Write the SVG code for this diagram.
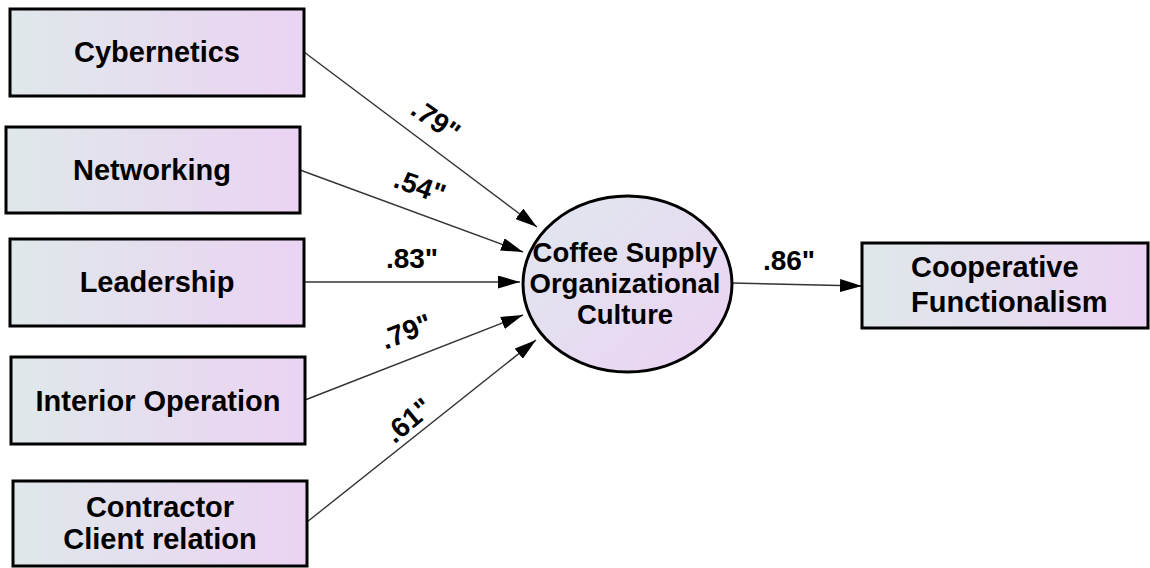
<svg xmlns="http://www.w3.org/2000/svg" width="1150" height="568" viewBox="0 0 1150 568">
  <defs>
    <linearGradient id="boxGrad" x1="0" y1="0" x2="1" y2="0">
      <stop offset="0" stop-color="#dfe8ea"/>
      <stop offset="1" stop-color="#ebd3f3"/>
    </linearGradient>
    <linearGradient id="ellGrad" x1="0" y1="0" x2="1" y2="1">
      <stop offset="0" stop-color="#dfe8ee"/>
      <stop offset="1" stop-color="#ecd2f3"/>
    </linearGradient>
    <marker id="arrow" viewBox="0 0 22 13" refX="22" refY="6.5" markerWidth="22" markerHeight="13" markerUnits="userSpaceOnUse" orient="auto">
      <path d="M0,0 L22,6.5 L0,13 Z" fill="#000"/>
    </marker>
  </defs>
  <style>
    .box { fill: url(#boxGrad); stroke: #000; stroke-width: 3; }
    .ell { fill: url(#ellGrad); stroke: #000; stroke-width: 3; }
    .lbl { font-family: "Liberation Sans", Arial, sans-serif; font-weight: bold; font-size: 29px; fill: #000; }
    .elbl { font-family: "Liberation Sans", Arial, sans-serif; font-weight: bold; font-size: 27.5px; fill: #000; text-anchor: middle; }
    .coef { font-family: "Liberation Sans", Arial, sans-serif; font-weight: bold; font-size: 28px; fill: #000; text-anchor: middle; }
    .edge { stroke: #333; stroke-width: 1.4; fill: none; marker-end: url(#arrow); }
  </style>
  <rect width="1150" height="568" fill="#fff"/>

  <g id="connectors">
    <line class="edge" x1="304" y1="52" x2="537" y2="227"/>
    <line class="edge" x1="300" y1="170" x2="523" y2="252"/>
    <line class="edge" x1="304" y1="282" x2="520" y2="282"/>
    <line class="edge" x1="305" y1="400" x2="523" y2="315"/>
    <line class="edge" x1="307" y1="522" x2="536" y2="340"/>
    <line class="edge" x1="732" y1="283" x2="862" y2="286"/>
    <g id="coefficients">
      <text class="coef" transform="translate(436,120) rotate(35)" x="0" y="10">.79"</text>
      <text class="coef" transform="translate(420,186) rotate(20)" x="0" y="10">.54"</text>
      <text class="coef" transform="translate(412,258)" x="0" y="10">.83"</text>
      <text class="coef" transform="translate(406,331) rotate(-21)" x="0" y="10">.79"</text>
      <text class="coef" transform="translate(408,420) rotate(-40)" x="0" y="10">.61"</text>
      <text class="coef" transform="translate(789,260)" x="0" y="10">.86"</text>
    </g>
  </g>

  <g id="cybernetics">
    <rect class="box" x="10" y="9" width="294" height="87"/>
    <text class="lbl" x="157" y="62" text-anchor="middle">Cybernetics</text>
  </g>
  <g id="networking">
    <rect class="box" x="6" y="127" width="294" height="86"/>
    <text class="lbl" x="152" y="180" text-anchor="middle">Networking</text>
  </g>
  <g id="leadership">
    <rect class="box" x="10" y="239" width="294" height="87"/>
    <text class="lbl" x="157" y="292" text-anchor="middle">Leadership</text>
  </g>
  <g id="interior-operation">
    <rect class="box" x="11" y="357" width="294" height="87"/>
    <text class="lbl" x="158" y="411" text-anchor="middle">Interior Operation</text>
  </g>
  <g id="contractor-client">
    <rect class="box" x="13" y="481" width="294" height="85"/>
    <text class="lbl" x="160" y="517" text-anchor="middle">Contractor</text>
    <text class="lbl" x="160" y="549" text-anchor="middle">Client relation</text>
  </g>
  <g id="coffee-supply">
    <ellipse class="ell" cx="627.5" cy="284" rx="104.5" ry="88"/>
    <text class="elbl" x="625" y="262">Coffee Supply</text>
    <text class="elbl" x="625" y="293">Organizational</text>
    <text class="elbl" x="625" y="324">Culture</text>
  </g>
  <g id="cooperative-functionalism">
    <rect class="box" x="862" y="243" width="286" height="85"/>
    <text class="lbl" x="911" y="277">Cooperative</text>
    <text class="lbl" x="911" y="312">Functionalism</text>
  </g>
</svg>
